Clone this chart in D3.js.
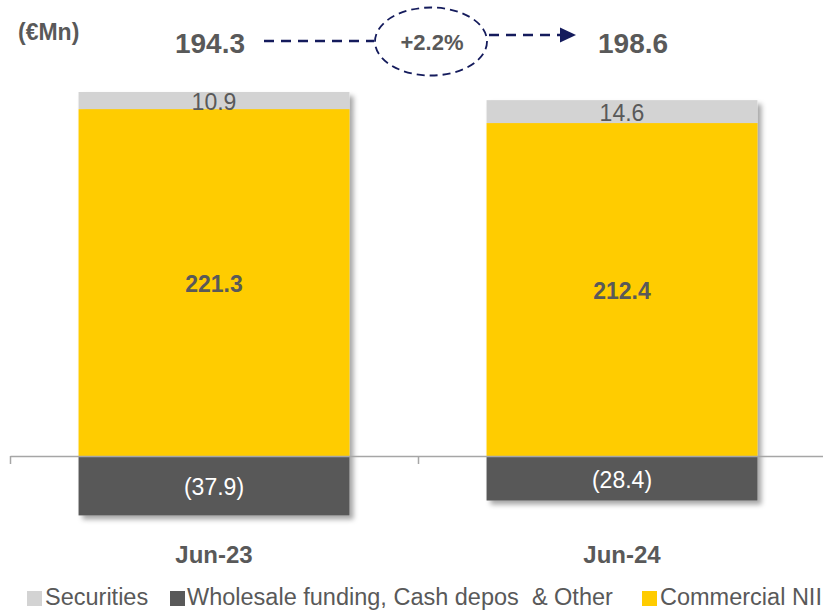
<!DOCTYPE html>
<html>
<head>
<meta charset="utf-8">
<script src="https://cdn.jsdelivr.net/npm/d3@7/dist/d3.min.js"></script>
<style>
  html, body { margin: 0; padding: 0; background: #fff; }
  svg { display: block; font-family: "Liberation Sans", Arial, Helvetica, sans-serif; }
  text { white-space: pre; }
</style>
</head>
<body>
<svg id="chart" width="823" height="611"></svg>
<script>
// Net interest income breakdown (€Mn)
const categories = ["Jun-23", "Jun-24"];
const seriesNames = ["Commercial NII", "Securities", "Wholesale funding, Cash depos  & Other"];
const commercialNII = [221.3, 212.4];
const securities = [10.9, 14.6];
const wholesaleOther = [-37.9, -28.4];

const colors = {
  "Securities": "#d3d3d3",
  "Wholesale funding, Cash depos  & Other": "#595959",
  "Commercial NII": "#ffcc00"
};
const textGray = "#595959";
const navy = "#141b5c";

const svg = d3.select("#chart");

// scales
const x = d3.scaleBand().domain(categories).range([10, 826]).padding(0);
const barW = x.bandwidth() * 0.664;
const barX = c => x(c) + (x.bandwidth() - barW) / 2;
const y = d3.scaleLinear().domain([0, 232.2]).range([456, 92]);

// drop shadow under each stacked column
const defs = svg.append("defs");
const f = defs.append("filter").attr("id", "shadow")
  .attr("x", "-10%").attr("y", "-10%").attr("width", "130%").attr("height", "130%");
f.append("feDropShadow").attr("dx", 4).attr("dy", 4).attr("stdDeviation", 2.5)
  .attr("flood-color", "#000").attr("flood-opacity", 0.35);

// stacked segments per category
const rows = categories.map((c, i) => ({
  cat: c,
  segs: [
    { key: "Commercial NII", y0: 0, y1: commercialNII[i], v: commercialNII[i], bold: true },
    { key: "Securities", y0: commercialNII[i], y1: commercialNII[i] + securities[i], v: securities[i], bold: false },
    { key: "Wholesale funding, Cash depos  & Other", y0: wholesaleOther[i], y1: 0, v: wholesaleOther[i], bold: false }
  ]
}));

const fmt = v => v < 0 ? "(" + d3.format(".1f")(-v) + ")" : d3.format(".1f")(v);

const cols = svg.append("g").selectAll("g.col").data(rows).join("g")
  .attr("class", "col");

cols.append("g").attr("filter", "url(#shadow)")
  .selectAll("rect").data(d => d.segs.map(s => ({ ...s, cat: d.cat }))).join("rect")
  .attr("x", d => barX(d.cat))
  .attr("width", barW)
  .attr("y", d => y(Math.max(d.y0, d.y1)))
  .attr("height", d => Math.abs(y(d.y0) - y(d.y1)))
  .attr("fill", d => colors[d.key]);

// axis along zero with ticks at the category boundaries
const xEdge = d3.scaleLinear().domain([0, categories.length]).range(x.range());
const axis = svg.append("g").attr("transform", `translate(0,${y(0)})`)
  .call(d3.axisBottom(xEdge).tickValues(d3.range(categories.length + 1))
    .tickFormat("").tickSizeInner(8).tickSizeOuter(0));
axis.select(".domain").attr("stroke", "#a6a6a6").attr("stroke-width", 1.5);
axis.selectAll(".tick line").attr("stroke", "#a6a6a6").attr("stroke-width", 1.5);

// value labels inside segments
cols.selectAll("text.val").data(d => d.segs.map(s => ({ ...s, cat: d.cat }))).join("text")
  .attr("class", "val")
  .attr("x", d => barX(d.cat) + barW / 2)
  .attr("y", d => (y(d.y0) + y(d.y1)) / 2)
  .attr("dy", "0.42em")
  .attr("text-anchor", "middle")
  .attr("font-size", 23)
  .attr("font-weight", d => d.bold ? "bold" : "normal")
  .attr("fill", d => d.v < 0 ? "#ffffff" : textGray)
  .text(d => fmt(d.v));

// category labels
svg.append("g").selectAll("text").data(categories).join("text")
  .attr("x", c => barX(c) + barW / 2)
  .attr("y", 563)
  .attr("text-anchor", "middle")
  .attr("font-size", 24)
  .attr("font-weight", "bold")
  .attr("fill", textGray)
  .text(c => c);

// unit
svg.append("text").attr("x", 18).attr("y", 40)
  .attr("font-size", 23).attr("font-weight", "bold").attr("fill", textGray)
  .text("(€Mn)");

// totals and growth
const totals = categories.map((c, i) => commercialNII[i] + securities[i] + wholesaleOther[i]);
const growth = totals[1] / totals[0] - 1;

svg.append("text").attr("x", 245).attr("y", 53).attr("text-anchor", "end")
  .attr("font-size", 28).attr("font-weight", "bold").attr("fill", textGray)
  .text(d3.format(".1f")(totals[0]));
svg.append("text").attr("x", 598).attr("y", 53).attr("text-anchor", "start")
  .attr("font-size", 28).attr("font-weight", "bold").attr("fill", textGray)
  .text(d3.format(".1f")(totals[1]));

const g = svg.append("g");
g.append("line").attr("x1", 264).attr("x2", 374).attr("y1", 41).attr("y2", 41)
  .attr("stroke", navy).attr("stroke-width", 2.5).attr("stroke-dasharray", "10,7");
g.append("ellipse").attr("cx", 431).attr("cy", 41.5).attr("rx", 56).attr("ry", 34)
  .attr("fill", "none").attr("stroke", navy).attr("stroke-width", 1.8)
  .attr("stroke-dasharray", "8,5");
g.append("line").attr("x1", 489).attr("x2", 560).attr("y1", 35).attr("y2", 35)
  .attr("stroke", navy).attr("stroke-width", 2.5).attr("stroke-dasharray", "10,7");
g.append("path").attr("d", "M560,27.5 L576,35 L560,42.5 Z").attr("fill", navy);
g.append("text").attr("x", 432).attr("y", 50).attr("text-anchor", "middle")
  .attr("font-size", 22).attr("font-weight", "bold").attr("fill", textGray)
  .text((growth >= 0 ? "+" : "") + d3.format(".1%")(growth));

// legend
const legendItems = [
  { key: "Securities", sx: 27, tx: 45 },
  { key: "Wholesale funding, Cash depos  & Other", sx: 170, tx: 187 },
  { key: "Commercial NII", sx: 642, tx: 660 }
];
const lg = svg.append("g").selectAll("g").data(legendItems).join("g");
lg.append("rect").attr("x", d => d.sx).attr("y", 591).attr("width", 15).attr("height", 15)
  .attr("fill", d => colors[d.key]);
lg.append("text").attr("x", d => d.tx).attr("y", 605)
  .attr("font-size", 23.5).attr("fill", textGray)
  .text(d => d.key);
</script>
</body>
</html>
